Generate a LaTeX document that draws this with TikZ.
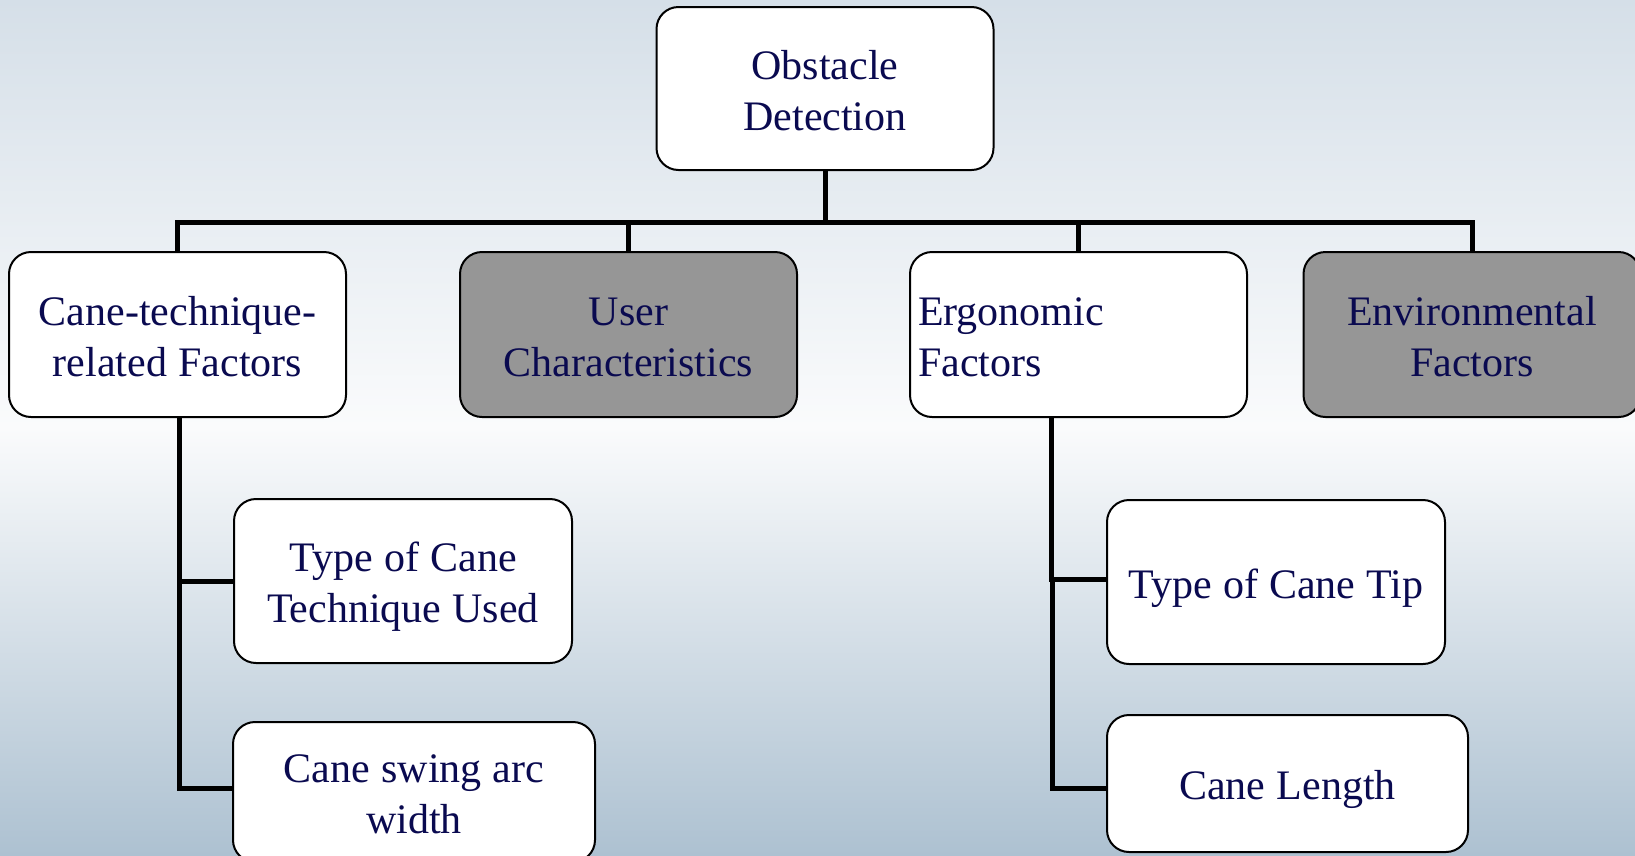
\documentclass[tikz,border=0pt]{standalone}
\usepackage{fontspec}
\setmainfont{Liberation Serif}
\definecolor{txt}{RGB}{10,10,80}
\definecolor{boxgray}{RGB}{150,150,150}
\definecolor{bgtop}{RGB}{213,223,232}
\definecolor{bgmid}{RGB}{250,251,252}
\definecolor{bgbot}{RGB}{173,193,209}
\newcommand\topstrt{\rule{0pt}{45pt}}
\newcommand\botstrt{\rule[-13pt]{0pt}{13pt}}
\newcommand\tightsp{\spaceskip=10.8pt plus 1pt minus 1pt\relax}
\begin{document}
\begin{tikzpicture}[x=1pt,y=-1pt,
  box/.style={draw=black, line width=2pt, rounded corners=22pt, fill=white,
    text=txt, font=\fontsize{42}{51}\selectfont,
    execute at begin node=\tightsp,
    inner xsep=8pt, inner ysep=0pt,
    align=center, text width=321pt, minimum height=165pt},
  graybox/.style={box, fill=boxgray},
  conn/.style={draw=black, line width=5pt, line join=miter}]
\clip (0,0) rectangle (1635,855);
\shade[top color=bgtop, bottom color=bgbot, middle color=bgmid] (0,0) rectangle (1635,855);
\coordinate (bus) at (0,222);
% nodes
\node[box, minimum height=163pt] (top) at (825,88.5) {\topstrt Obstacle\\Detection\botstrt};
\node[box] (n1) at (177.5,334.5) {\topstrt Cane-technique-\\related Factors\botstrt};
\node[graybox] (n2) at (628.5,334.5) {\topstrt User\\Characteristics\botstrt};
\node[box, align=left] (n3) at (1078.5,334.5) {\topstrt Ergonomic\\Factors\botstrt};
\node[graybox] (n4) at (1472,334.5) {\topstrt Environmental\\Factors\botstrt};
\node[box, text width=322pt, minimum height=164pt] (tech) at (403,581) {\topstrt Type of Cane\\Technique Used\botstrt};
\node[box, text width=346pt, minimum height=140pt] (swing) at (414,792) {\topstrt Cane swing arc\\width\botstrt};
\node[box, text width=322pt, minimum height=164pt] (tip) at (1276,582) {\topstrt Type of Cane Tip\botstrt};
\node[box, text width=345pt, minimum height=137pt] (len) at (1287.5,783.5) {\topstrt Cane Length\botstrt};
\coordinate (rj) at (1052,579);
% connectors
\draw[conn] (top.south) -- (top.south |- bus);
\draw[conn] (n1.north) -- (n1.north |- bus) -- (n4.north |- bus) -- (n4.north);
\draw[conn] (n2.north) -- (n2.north |- bus);
\draw[conn] (n3.north) -- (n3.north |- bus);
\draw[conn] ([xshift=1.5pt]n1.south) |- ([yshift=4pt]swing.west);
\draw[conn] ([xshift=1.5pt]n1.south |- tech.west) -- (tech.west);
\draw[conn] ([xshift=-27pt]n3.south) |- ([yshift=3pt]tip.west);
\draw[conn] (rj) |- ([yshift=-4.5pt]len.west);
\end{tikzpicture}
\end{document}
